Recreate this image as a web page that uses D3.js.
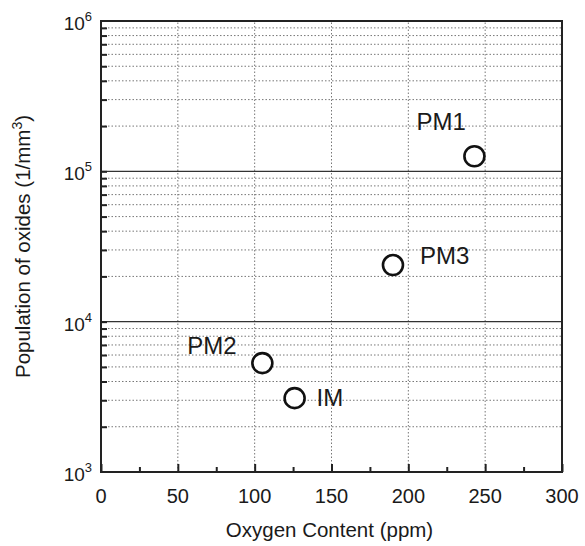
<!DOCTYPE html>
<html>
<head>
<meta charset="utf-8">
<script src="https://cdn.jsdelivr.net/npm/d3@7"></script>
<style>
  body { margin: 0; background: #fff; }
  text { font-family: "Liberation Sans", Arial, sans-serif; fill: #1a1a1a; }
</style>
</head>
<body>
<div id="root"></div>
<script>
// Data
const samples = ['PM1', 'PM3', 'PM2', 'IM'];
const oxygen = [243, 190, 105, 126];
const population = [126000, 23800, 5300, 3100];
const labelOffsets = [[-58, -26], [27, -1], [-75, -9], [22, 8]];
const xTicks = [0, 50, 100, 150, 200, 250, 300];
const yDecades = [3, 4, 5, 6];

// Layout
const width = 585;
const height = 546;
const margin = {top: 21, right: 23, bottom: 74, left: 101};

const svg = d3.select('#root')
  .append('svg')
  .attr('width', width)
  .attr('height', height);

const x = d3.scaleLinear()
  .domain([0, 300])
  .range([margin.left, width - margin.right]);

const y = d3.scaleLog()
  .domain([1e3, 1e6])
  .range([height - margin.bottom, margin.top]);

// Minor log values (2..9 each decade)
const minorY = [];
[1e3, 1e4, 1e5].forEach(d => {
  for (let k = 2; k <= 9; k++) minorY.push(d * k);
});

const grid = svg.append('g');

// Dotted horizontal grid
grid.selectAll('.hminor')
  .data(minorY)
  .enter()
    .append('line')
    .attr('x1', x(0))
    .attr('x2', x(300))
    .attr('y1', d => y(d))
    .attr('y2', d => y(d))
    .attr('stroke', '#777')
    .attr('stroke-width', 1)
    .attr('stroke-dasharray', '1.5,2');

// Dotted vertical grid
grid.selectAll('.vgrid')
  .data(xTicks.slice(1, -1))
  .enter()
    .append('line')
    .attr('x1', d => x(d))
    .attr('x2', d => x(d))
    .attr('y1', y(1e3))
    .attr('y2', y(1e6))
    .attr('stroke', '#777')
    .attr('stroke-width', 1)
    .attr('stroke-dasharray', '1.5,2');

// Solid decade lines
grid.selectAll('.hmajor')
  .data([1e4, 1e5])
  .enter()
    .append('line')
    .attr('x1', x(0))
    .attr('x2', x(300))
    .attr('y1', d => y(d))
    .attr('y2', d => y(d))
    .attr('stroke', '#333')
    .attr('stroke-width', 1.3);

// Left axis ticks (inside)
svg.append('g')
  .attr('transform', `translate(${x(0)},0)`)
  .call(d3.axisRight(y).tickValues(minorY.concat([1e4, 1e5])).tickSize(6).tickFormat(''))
  .call(g => g.select('.domain').remove())
  .call(g => g.selectAll('line').attr('stroke', '#222').attr('stroke-width', 2));

// Bottom axis ticks (inside)
svg.append('g')
  .attr('transform', `translate(0,${y(1e3)})`)
  .call(d3.axisTop(x).tickValues(xTicks).tickSize(8).tickFormat(''))
  .call(g => g.select('.domain').remove())
  .call(g => g.selectAll('line').attr('stroke', '#222').attr('stroke-width', 2));

svg.append('g')
  .attr('transform', `translate(0,${y(1e3)})`)
  .call(d3.axisTop(x).tickValues([25, 75, 125, 175, 225, 275]).tickSize(5).tickFormat(''))
  .call(g => g.select('.domain').remove())
  .call(g => g.selectAll('line').attr('stroke', '#222').attr('stroke-width', 2));

// Frame
svg.append('rect')
  .attr('x', x(0))
  .attr('y', y(1e6))
  .attr('width', x(300) - x(0))
  .attr('height', y(1e3) - y(1e6))
  .attr('fill', 'none')
  .attr('stroke', '#222')
  .attr('stroke-width', 2);

// X tick labels
svg.append('g')
  .selectAll('text')
  .data(xTicks)
  .enter()
    .append('text')
    .attr('x', d => x(d))
    .attr('y', y(1e3) + 31)
    .attr('text-anchor', 'middle')
    .style('font-size', '20px')
    .text(d => d);

// Y tick labels with superscripts
const yLabels = svg.append('g')
  .selectAll('text')
  .data(yDecades)
  .enter()
    .append('text')
    .attr('x', x(0) - 9)
    .attr('y', d => y(Math.pow(10, d)) + 9)
    .attr('text-anchor', 'end')
    .style('font-size', '19px');

yLabels.append('tspan').text('10');
yLabels.append('tspan')
  .attr('dy', -9)
  .style('font-size', '13px')
  .text(d => d);

// Axis titles
svg.append('text')
  .attr('x', (x(0) + x(300)) / 2 - 2)
  .attr('y', 537)
  .attr('text-anchor', 'middle')
  .style('font-size', '20.5px')
  .text('Oxygen Content (ppm)');

const yTitle = svg.append('text')
  .attr('transform', `translate(30,${(y(1e3) + y(1e6)) / 2}) rotate(-90)`)
  .attr('text-anchor', 'middle')
  .style('font-size', '20.5px');
yTitle.append('tspan').text('Population of oxides (1/mm');
yTitle.append('tspan').attr('dy', -8).style('font-size', '14px').text('3');
yTitle.append('tspan').attr('dy', 8).text(')');

// Points
const points = svg.append('g')
  .selectAll('g')
  .data(samples.map((s, i) => ({name: s, ox: oxygen[i], pop: population[i], off: labelOffsets[i]})))
  .enter()
    .append('g');

points.append('circle')
  .attr('cx', d => x(d.ox))
  .attr('cy', d => y(d.pop))
  .attr('r', 10)
  .attr('fill', '#fff')
  .attr('stroke', '#111')
  .attr('stroke-width', 2.6);

points.append('text')
  .attr('x', d => x(d.ox) + d.off[0])
  .attr('y', d => y(d.pop) + d.off[1])
  .style('font-size', '24px')
  .text(d => d.name);
</script>
</body>
</html>
